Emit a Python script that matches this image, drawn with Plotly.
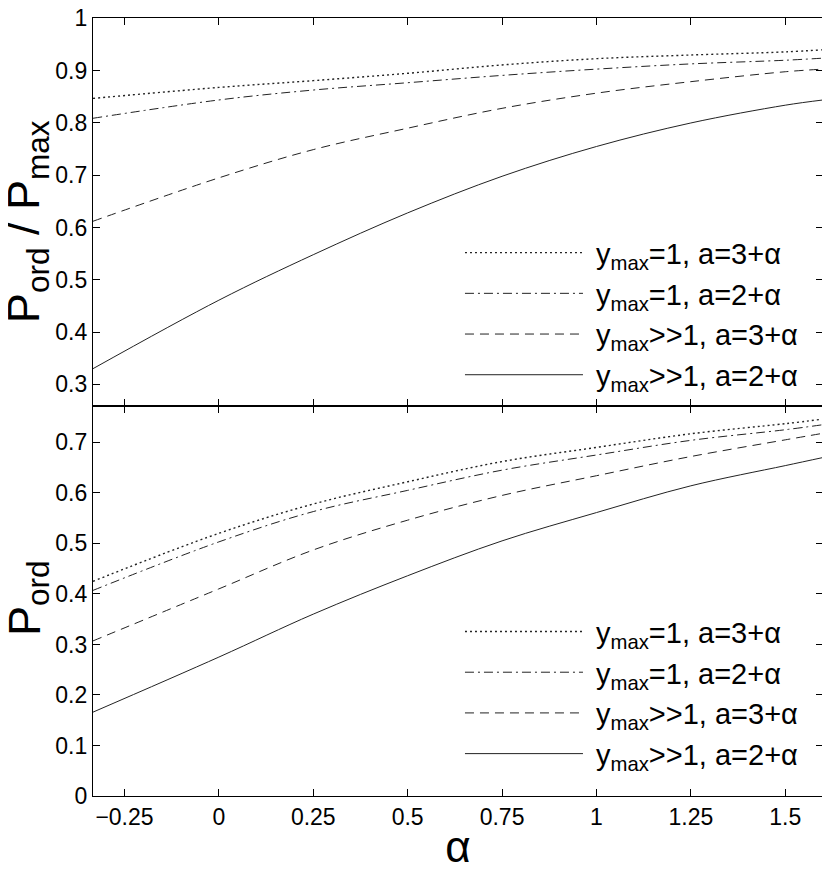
import plotly.graph_objects as go

# ---- data ----
alpha = [-1/3, 0.0, 0.25, 0.5, 0.75, 1.0, 1.25, 1.5, 1.6]

labels = ["\u00a0y<sub>max</sub>=1, a=3+α",
          "\u00a0y<sub>max</sub>=1, a=2+α",
          "\u00a0y<sub>max</sub>>>1, a=3+α",
          "\u00a0y<sub>max</sub>>>1, a=2+α"]

# top panel: P_ord / P_max
ratio_ymax1_a3 = [0.847, 0.868, 0.881, 0.895, 0.911, 0.923, 0.930, 0.936, 0.940]
ratio_ymax1_a2 = [0.809, 0.844, 0.863, 0.877, 0.891, 0.903, 0.913, 0.920, 0.924]
ratio_big_a3   = [0.612, 0.695, 0.749, 0.790, 0.828, 0.857, 0.879, 0.898, 0.903]
ratio_big_a2   = [0.330, 0.461, 0.548, 0.628, 0.698, 0.755, 0.800, 0.834, 0.844]

# bottom panel: P_ord
pord_ymax1_a3 = [0.425, 0.520, 0.578, 0.622, 0.662, 0.690, 0.717, 0.737, 0.746]
pord_ymax1_a2 = [0.407, 0.503, 0.563, 0.605, 0.645, 0.675, 0.704, 0.725, 0.735]
pord_big_a3   = [0.307, 0.410, 0.487, 0.546, 0.595, 0.634, 0.672, 0.705, 0.718]
pord_big_a2   = [0.166, 0.275, 0.360, 0.436, 0.505, 0.561, 0.614, 0.654, 0.670]

x_ticks = [-0.25, 0, 0.25, 0.5, 0.75, 1, 1.25, 1.5]
x_ticklabels = ["\u22120.25", "0", "0.25", "0.5", "0.75", "1", "1.25", "1.5"]
top_yticks = [0.3, 0.4, 0.5, 0.6, 0.7, 0.8, 0.9, 1.0]
top_yticklabels = ["0.3", "0.4", "0.5", "0.6", "0.7", "0.8", "0.9", "1"]
bot_yticks = [0, 0.1, 0.2, 0.3, 0.4, 0.5, 0.6, 0.7]
bot_yticklabels = ["0", "0.1", "0.2", "0.3", "0.4", "0.5", "0.6", "0.7"]

top_ytitle = "P<sub>ord</sub> / P<sub>max</sub>"
bot_ytitle = "P<sub>ord</sub>"
x_title = "α"

dashes = ["2px,3px", "9px,4px,2px,4px", "9px,6px", "solid"]
widths = [1.4, 1.0, 1.0, 1.0]
LINE = "#222222"
FONT = "Liberation Sans, Arial, Helvetica, sans-serif"

fig = go.Figure()

top_series = [ratio_ymax1_a3, ratio_ymax1_a2, ratio_big_a3, ratio_big_a2]
bot_series = [pord_ymax1_a3, pord_ymax1_a2, pord_big_a3, pord_big_a2]

for lab, ys, d, w in zip(labels, top_series, dashes, widths):
    fig.add_trace(go.Scatter(x=alpha, y=ys, mode="lines", name=lab,
                             line=dict(color=LINE, width=w, dash=d, shape="spline"),
                             xaxis="x2", yaxis="y2", legend="legend"))
for lab, ys, d, w in zip(labels, bot_series, dashes, widths):
    fig.add_trace(go.Scatter(x=alpha, y=ys, mode="lines", name=lab,
                             line=dict(color=LINE, width=w, dash=d, shape="spline"),
                             xaxis="x", yaxis="y", legend="legend2"))

split = 390 / 778

axis_common = dict(showgrid=False, zeroline=False, showline=True, linecolor="black",
                   linewidth=1.3, mirror="ticks", ticks="inside", ticklen=7,
                   tickcolor="black", tickwidth=1, automargin=False,
                   ticklabeloverflow="allow",
                   tickfont=dict(family=FONT, size=23, color="black"))

legend_common = dict(font=dict(family=FONT, size=29, color="black"),
                     bgcolor="rgba(0,0,0,0)", borderwidth=0,
                     xanchor="left", yanchor="top", itemwidth=118,
                     tracegroupgap=0, itemclick=False)

fig.update_layout(
    width=822, height=866,
    margin=dict(l=85, r=7, t=10, b=78),
    paper_bgcolor="white", plot_bgcolor="white",
    showlegend=True,
    xaxis=dict(domain=[0, 1], range=[-1/3, 1.6], anchor="y",
               tickvals=x_ticks, ticktext=x_ticklabels,
               title=dict(text=x_title, font=dict(family=FONT, size=44, color="black"), standoff=2),
               **axis_common),
    yaxis=dict(domain=[0, split], range=[0, 0.772], anchor="x",
               tickvals=bot_yticks, ticktext=bot_yticklabels,
               **axis_common),
    xaxis2=dict(domain=[0, 1], range=[-1/3, 1.6], anchor="y2",
                tickvals=x_ticks, showticklabels=False,
                **axis_common),
    yaxis2=dict(domain=[split, 1], range=[0.2586, 1.0008], anchor="x2",
                tickvals=top_yticks, ticktext=top_yticklabels,
                **axis_common),
    legend=dict(x=0.5027, y=0.731, **legend_common),
    legend2=dict(x=0.5027, y=0.244, **legend_common),
)

title_font = dict(family=FONT, size=45, color="black")
fig.add_annotation(text=top_ytitle, xref="paper", yref="paper", x=-0.090, y=0.738,
                   xanchor="center", yanchor="middle", textangle=-90,
                   showarrow=False, font=title_font)
fig.add_annotation(text=bot_ytitle, xref="paper", yref="paper", x=-0.090, y=0.255,
                   xanchor="center", yanchor="middle", textangle=-90,
                   showarrow=False, font=title_font)

fig.write_html("out.html")
